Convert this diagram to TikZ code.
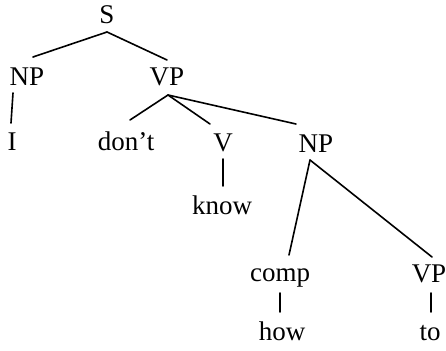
\documentclass[tikz,border=0pt]{standalone}
\usepackage{fontspec}
\setmainfont{Liberation Serif}
\usetikzlibrary{calc}
\begin{document}
\begin{tikzpicture}[x=1pt,y=-1pt,
  lbl/.style={inner sep=0pt,anchor=base,font=\fontsize{27}{32}\selectfont},
  branch/.style={line width=1.6pt,line cap=round}]
\useasboundingbox (0,0) rectangle (446,350);
% tree labels, placed at their baselines
\node[lbl] (S)    at (107,24)  {S};
\node[lbl] (NPa)  at (27,85)   {NP};
\node[lbl] (VPa)  at (167,85)  {VP};
\node[lbl] (I)    at (12,150)  {I};
\node[lbl] (dont) at (126,150) {don't};
\node[lbl] (V)    at (223,151) {V};
\node[lbl] (NPb)  at (316,152) {NP};
\node[lbl] (know) at (222,214) {know};
\node[lbl] (comp) at (280,281) {comp};
\node[lbl] (VPb)  at (429,282) {VP};
\node[lbl] (how)  at (282,340) {how};
\node[lbl] (to)   at (430,340) {to};
% branches
\draw[branch] ($(S.base)+(0,8)$) -- ($(NPa.base)+(6,-28)$);
\draw[branch] ($(S.base)+(0,8)$) -- ($(VPa.base)+(0,-25)$);
\draw[branch] ($(NPa.base)+(-14,8)$) -- ($(I.base)+(-1,-27)$);
\draw[branch] ($(VPa.base)+(1,10)$) -- ($(dont.base)+(4,-30)$);
\draw[branch] ($(VPa.base)+(1,10)$) -- ($(V.base)+(-13,-27)$);
\draw[branch] ($(VPa.base)+(1,10)$) -- ($(NPb.base)+(-20,-28)$);
\draw[branch] ($(V.base)+(0,8)$) -- ($(know.base)+(1,-28)$);
\draw[branch] ($(NPb.base)+(-6,8)$) -- ($(comp.base)+(9,-26)$);
\draw[branch] ($(NPb.base)+(-6,8)$) -- ($(VPb.base)+(3,-25)$);
\draw[branch] ($(comp.base)+(0,12)$) -- ($(how.base)+(-2,-28)$);
\draw[branch] ($(VPb.base)+(2,11)$) -- ($(to.base)+(1,-28)$);
\end{tikzpicture}
\end{document}
